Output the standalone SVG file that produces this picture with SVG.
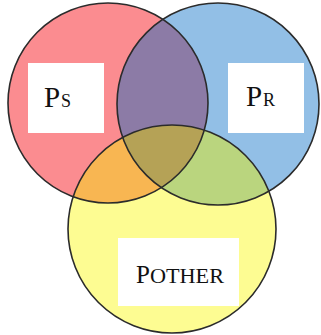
<svg xmlns="http://www.w3.org/2000/svg" width="321" height="335" viewBox="0 0 321 335">
<style>
.ring{fill:none;stroke:#2b2b2b;stroke-width:1.6}
.box{fill:#ffffff}
.lbl{font-family:"Liberation Serif","DejaVu Serif","Times New Roman",serif;fill:#111111}
</style>
<defs>
<clipPath id="cR"><circle cx="108" cy="103" r="100"/></clipPath>
<clipPath id="cB"><circle cx="218" cy="104" r="101"/></clipPath>
</defs>
<rect width="321" height="335" fill="#ffffff"/>
<g id="fills">
<circle cx="108" cy="103" r="100" fill="#fb8c90"/>
<circle cx="218" cy="104" r="101" fill="#92bfe6"/>
<circle cx="172" cy="229" r="104" fill="#fdfc92"/>
<circle cx="218" cy="104" r="101" fill="#8c7ba6" clip-path="url(#cR)"/>
<circle cx="172" cy="229" r="104" fill="#f8b652" clip-path="url(#cR)"/>
<circle cx="172" cy="229" r="104" fill="#bad57e" clip-path="url(#cB)"/>
<g clip-path="url(#cR)"><circle cx="172" cy="229" r="104" fill="#b5a256" clip-path="url(#cB)"/></g>
</g>
<g id="connectors"></g>
<g id="node-ps">
<circle class="ring" cx="108" cy="103" r="100"/>
<rect class="box" x="28" y="63" width="76" height="70"/>
<text class="lbl" x="44" y="107"><tspan font-size="29">P</tspan><tspan x="61" font-size="18">S</tspan></text>
</g>
<g id="node-pr">
<circle class="ring" cx="218" cy="104" r="101"/>
<rect class="box" x="228" y="63" width="76" height="70"/>
<text class="lbl" x="246" y="106"><tspan font-size="29">P</tspan><tspan x="263" font-size="18">R</tspan></text>
</g>
<g id="node-pother">
<circle class="ring" cx="172" cy="229" r="104"/>
<rect class="box" x="118" y="238" width="121" height="68"/>
<text class="lbl" x="136" y="283"><tspan font-size="25">P</tspan><tspan x="150" font-size="20" textLength="74" lengthAdjust="spacingAndGlyphs">OTHER</tspan></text>
</g>
</svg>
